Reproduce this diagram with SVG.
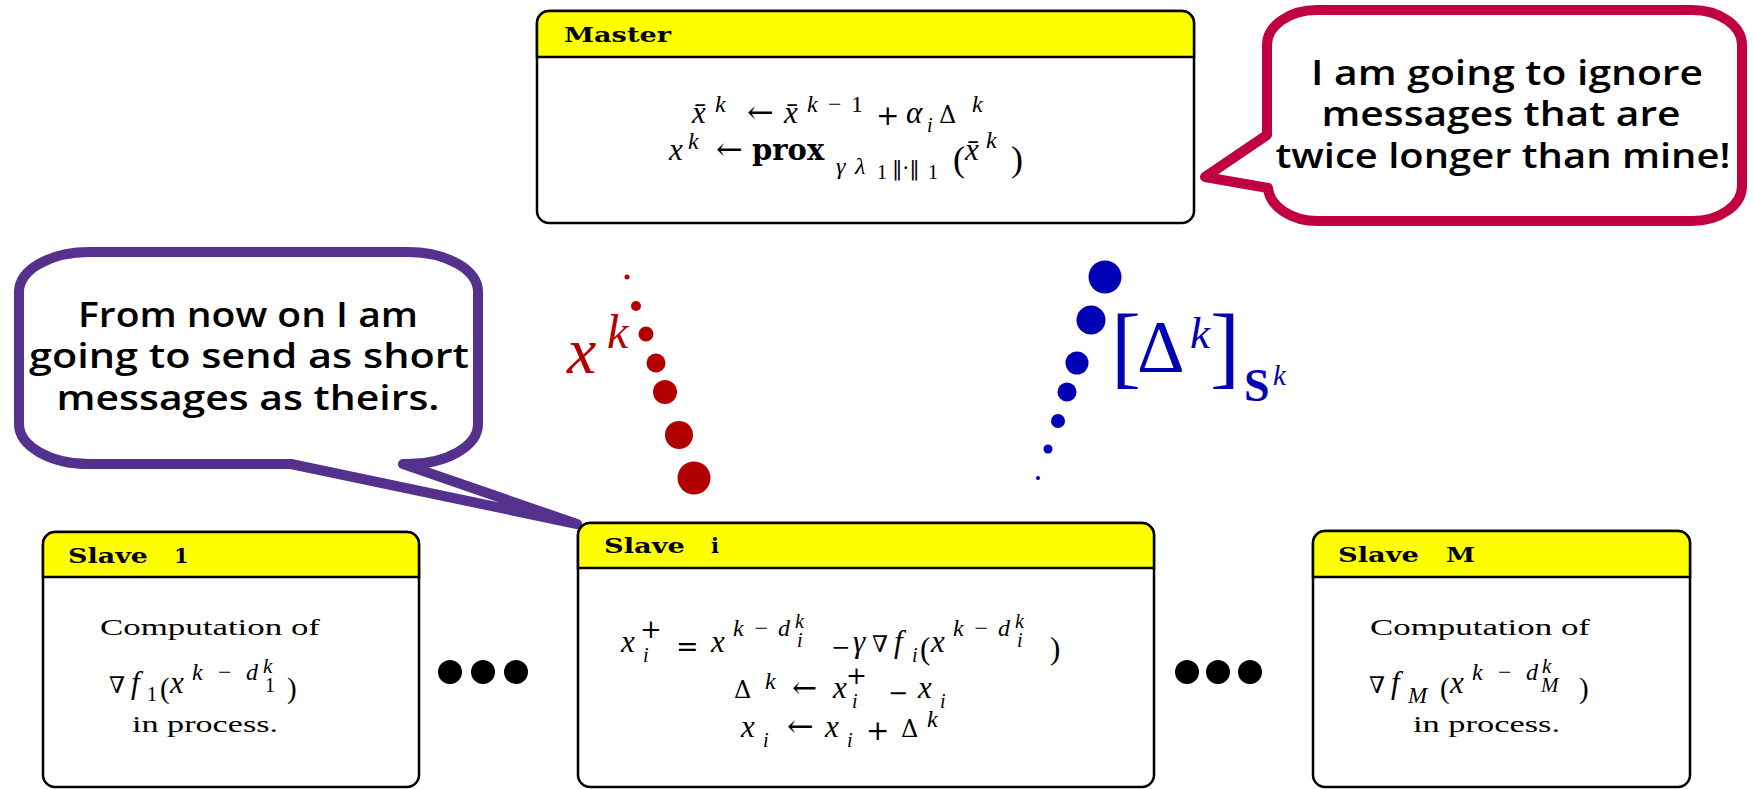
<svg xmlns="http://www.w3.org/2000/svg" width="1753" height="789" viewBox="0 0 1753 789">
<style>
.box{fill:#fff;stroke:#000;stroke-width:2.5}
.hdr{fill:#ffff00;stroke:#000;stroke-width:2.5}
.ht{font-family:"DejaVu Serif",serif;font-weight:bold;font-size:21px;fill:#000}
.m{font-family:"Liberation Serif",serif;font-style:italic;font-size:31px;fill:#000}
.u{font-style:normal}
.sy{font-family:"DejaVu Serif",serif;font-style:normal}
.rm{font-family:"Liberation Serif",serif;font-size:23px;fill:#000}
.bub{font-family:"Open Sans",sans-serif;font-weight:600;font-size:35px;fill:#000;text-anchor:middle}
.red{fill:#b20000}
.blue{fill:#0000b4}
</style>
<rect width="1753" height="789" fill="#fff"/>

<g id="bubble-slave">
<path d="M 89 252 H 408 A 70 40 0 0 1 478 292 V 424 A 70 40 0 0 1 408 464 L 403 464 L 577 524 L 291 464 H 89 A 70 40 0 0 1 19 424 V 292 A 70 40 0 0 1 89 252 Z" fill="#fff" stroke="#55318e" stroke-width="10" stroke-linejoin="round"/>
<text class="bub" x="248" y="327" textLength="340" lengthAdjust="spacingAndGlyphs">From now on I am</text>
<text class="bub" x="249" y="368" textLength="440" lengthAdjust="spacingAndGlyphs">going to send as short</text>
<text class="bub" x="248" y="410" textLength="383" lengthAdjust="spacingAndGlyphs">messages as theirs.</text>
</g>

<g id="bubble-master">
<path d="M 1317 10 H 1692 A 50 35 0 0 1 1742 45 V 186 A 50 35 0 0 1 1692 221 H 1318 A 50 35 0 0 1 1268 188 L 1205 177 L 1267 135 V 45 A 50 35 0 0 1 1317 10 Z" fill="#fff" stroke="#c0003f" stroke-width="10" stroke-linejoin="round"/>
<text class="bub" x="1507" y="85" textLength="392" lengthAdjust="spacingAndGlyphs">I am going to ignore</text>
<text class="bub" x="1501" y="126" textLength="359" lengthAdjust="spacingAndGlyphs">messages that are</text>
<text class="bub" x="1503" y="168" textLength="455" lengthAdjust="spacingAndGlyphs">twice longer than mine!</text>
</g>

<g id="master">
<rect class="box" x="537" y="11" width="657" height="212" rx="12"/>
<path class="hdr" d="M 537 57 V 23 A 12 12 0 0 1 549 11 H 1182 A 12 12 0 0 1 1194 23 V 57 Z"/>
<text class="ht" x="564" y="42" textLength="107" lengthAdjust="spacingAndGlyphs">Master</text>
<text class="m">
<tspan x="692" y="123">x̄</tspan><tspan x="715" y="112" font-size="24">k</tspan>
<tspan class="sy" x="747" y="123" font-size="32">←</tspan>
<tspan x="784" y="123">x̄</tspan><tspan x="807" y="112" font-size="24" textLength="56" lengthAdjust="spacing">k − <tspan class="u">1</tspan></tspan>
<tspan class="sy" x="876" y="125" font-size="28">+</tspan>
<tspan x="906" y="123">α</tspan><tspan x="927" y="132" font-size="20">i</tspan>
<tspan class="sy" x="939" y="123" font-size="24">Δ</tspan><tspan x="972" y="112" font-size="24">k</tspan>
</text>
<text class="m">
<tspan x="669" y="160">x</tspan><tspan x="688" y="149" font-size="24">k</tspan>
<tspan class="sy" x="716" y="160" font-size="32">←</tspan>
<tspan class="sy" x="752" y="160" font-weight="bold" font-size="29">prox</tspan>
<tspan x="836" y="174" font-size="24">γ</tspan><tspan x="855" y="174" font-size="24">λ</tspan><tspan class="u" x="877" y="179" font-size="20">1</tspan><tspan class="sy" x="892" y="175" font-size="21">‖·‖</tspan><tspan class="u" x="928" y="179" font-size="20">1</tspan>
<tspan class="u" x="953" y="171" font-size="36">(</tspan><tspan x="965" y="160">x̄</tspan><tspan x="986" y="148" font-size="24">k</tspan><tspan class="u" x="1011" y="171" font-size="36">)</tspan>
</text>
</g>

<g id="slave-1">
<rect class="box" x="43" y="532" width="376" height="255" rx="12"/>
<path class="hdr" d="M 43 577 V 544 A 12 12 0 0 1 55 532 H 407 A 12 12 0 0 1 419 544 V 577 Z"/>
<text class="ht" x="68" y="563" textLength="80" lengthAdjust="spacingAndGlyphs">Slave</text>
<text class="ht" x="174" y="563">1</text>
<text class="rm" x="100" y="635" textLength="220" lengthAdjust="spacingAndGlyphs">Computation of</text>
<text class="m">
<tspan class="sy" x="109" y="693" font-size="23">∇</tspan><tspan x="131" y="693">f</tspan><tspan class="u" x="147" y="701" font-size="20">1</tspan>
<tspan class="u" x="160" y="698" font-size="29">(</tspan><tspan x="170" y="693">x</tspan>
<tspan x="192" y="680" font-size="24" textLength="66" lengthAdjust="spacing">k − d</tspan>
<tspan x="263" y="673" font-size="21">k</tspan><tspan class="u" x="265" y="692" font-size="20">1</tspan>
<tspan class="u" x="287" y="698" font-size="29">)</tspan>
</text>
<text class="rm" x="132" y="732" textLength="146" lengthAdjust="spacingAndGlyphs">in process.</text>
</g>

<g id="slave-i">
<rect class="box" x="578" y="523" width="576" height="264" rx="12"/>
<path class="hdr" d="M 578 568 V 535 A 12 12 0 0 1 590 523 H 1142 A 12 12 0 0 1 1154 535 V 568 Z"/>
<text class="ht" x="604" y="553" textLength="81" lengthAdjust="spacingAndGlyphs">Slave</text>
<text class="ht" x="711" y="553">i</text>
<text class="m">
<tspan x="621" y="652">x</tspan><tspan class="sy" x="640" y="638" font-size="26">+</tspan><tspan x="643" y="662" font-size="20">i</tspan>
<tspan class="sy" x="676" y="656" font-size="27">=</tspan>
<tspan x="711" y="652">x</tspan><tspan x="733" y="636" font-size="24" textLength="57" lengthAdjust="spacing">k − d</tspan>
<tspan x="795" y="628" font-size="20">k</tspan><tspan x="797" y="647" font-size="20">i</tspan>
<tspan class="sy" x="831" y="655" font-size="23">−</tspan>
<tspan x="853" y="652">γ</tspan><tspan class="sy" x="872" y="652" font-size="23">∇</tspan><tspan x="894" y="652">f</tspan><tspan x="912" y="662" font-size="20">i</tspan>
<tspan class="u" x="920" y="659" font-size="31">(</tspan><tspan x="931" y="652">x</tspan><tspan x="953" y="636" font-size="24" textLength="57" lengthAdjust="spacing">k − d</tspan>
<tspan x="1015" y="628" font-size="20">k</tspan><tspan x="1017" y="647" font-size="20">i</tspan>
<tspan class="u" x="1050" y="659" font-size="31">)</tspan>
</text>
<text class="m">
<tspan class="sy" x="734" y="698" font-size="24">Δ</tspan><tspan x="765" y="689" font-size="24">k</tspan>
<tspan class="sy" x="792" y="698" font-size="30">←</tspan>
<tspan x="833" y="698">x</tspan><tspan class="sy" x="846" y="684" font-size="25">+</tspan><tspan x="852" y="708" font-size="20">i</tspan>
<tspan class="sy" x="888" y="701" font-size="24">−</tspan>
<tspan x="918" y="698">x</tspan><tspan x="940" y="708" font-size="20">i</tspan>
</text>
<text class="m">
<tspan x="741" y="737">x</tspan><tspan x="763" y="747" font-size="20">i</tspan>
<tspan class="sy" x="787" y="737" font-size="32">←</tspan>
<tspan x="825" y="737">x</tspan><tspan x="847" y="747" font-size="20">i</tspan>
<tspan class="sy" x="866" y="740" font-size="28">+</tspan>
<tspan class="sy" x="901" y="737" font-size="24">Δ</tspan><tspan x="927" y="727" font-size="24">k</tspan>
</text>
</g>

<g id="slave-M">
<rect class="box" x="1313" y="531" width="377" height="256" rx="12"/>
<path class="hdr" d="M 1313 577 V 543 A 12 12 0 0 1 1325 531 H 1678 A 12 12 0 0 1 1690 543 V 577 Z"/>
<text class="ht" x="1338" y="562" textLength="81" lengthAdjust="spacingAndGlyphs">Slave</text>
<text class="ht" x="1446" y="562" textLength="29" lengthAdjust="spacingAndGlyphs">M</text>
<text class="rm" x="1370" y="635" textLength="220" lengthAdjust="spacingAndGlyphs">Computation of</text>
<text class="m">
<tspan class="sy" x="1369" y="693" font-size="23">∇</tspan><tspan x="1391" y="693">f</tspan><tspan x="1408" y="703" font-size="23">M</tspan>
<tspan class="u" x="1440" y="698" font-size="29">(</tspan><tspan x="1450" y="693">x</tspan>
<tspan x="1472" y="680" font-size="24" textLength="66" lengthAdjust="spacing">k − d</tspan>
<tspan x="1542" y="673" font-size="21">k</tspan><tspan x="1541" y="692" font-size="21">M</tspan>
<tspan class="u" x="1579" y="698" font-size="29">)</tspan>
</text>
<text class="rm" x="1413" y="732" textLength="147" lengthAdjust="spacingAndGlyphs">in process.</text>
</g>

<g id="ellipses">
<circle cx="450" cy="672" r="12"/><circle cx="483" cy="672" r="12"/><circle cx="516" cy="672" r="12"/>
<circle cx="1187" cy="672" r="12"/><circle cx="1218" cy="672" r="12"/><circle cx="1250" cy="672" r="12"/>
</g>

<g id="connectors">
<g class="red">
<circle cx="627" cy="277" r="2.5"/><circle cx="636" cy="306" r="5"/><circle cx="646" cy="334" r="7.5"/><circle cx="656" cy="363" r="9.5"/><circle cx="665" cy="392" r="12"/><circle cx="679" cy="435" r="14"/><circle cx="694" cy="478" r="16.5"/>
<text font-family="Liberation Serif,serif" font-style="italic"><tspan x="567" y="373" font-size="66">x</tspan><tspan x="607" y="348" font-size="48">k</tspan></text>
</g>
<g class="blue">
<circle cx="1105" cy="277" r="16.5"/><circle cx="1091" cy="320" r="14.5"/><circle cx="1077" cy="363" r="11.5"/><circle cx="1067" cy="392" r="9.5"/><circle cx="1058" cy="421" r="7"/><circle cx="1048" cy="449" r="4.5"/><circle cx="1038" cy="478" r="2"/>
<text font-family="Liberation Serif,serif"><tspan x="1111" y="377" font-size="90">[</tspan><tspan x="1137" y="372" font-size="74">Δ</tspan><tspan x="1190" y="348" font-size="45" font-style="italic">k</tspan><tspan x="1210" y="377" font-size="90">]</tspan><tspan x="1244" y="401" font-size="46" font-weight="bold">S</tspan><tspan x="1273" y="385" font-size="29" font-style="italic">k</tspan></text>
</g>
</g>
</svg>
